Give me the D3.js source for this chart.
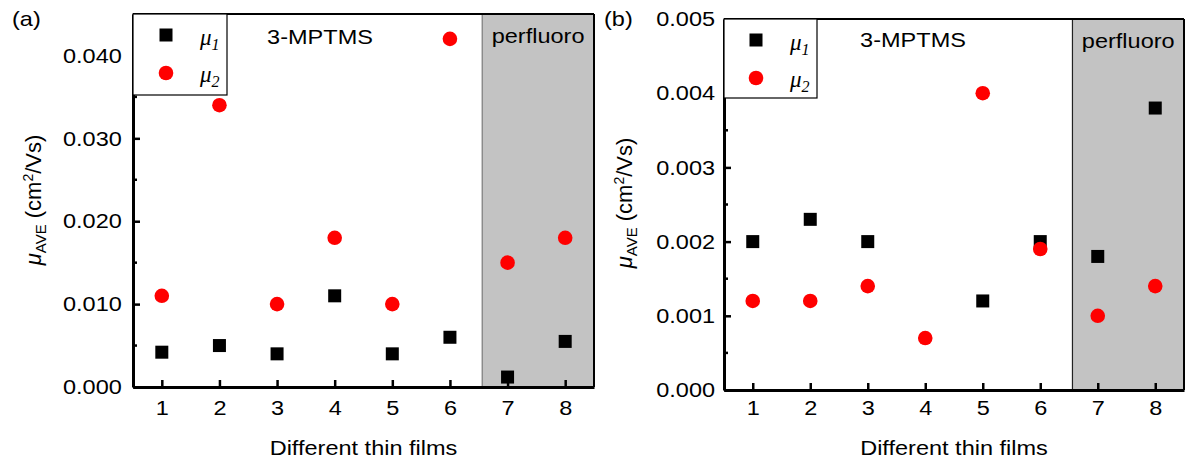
<!DOCTYPE html>
<html>
<head>
<meta charset="utf-8">
<script src="https://cdn.jsdelivr.net/npm/d3@7"></script>
<style>
  body { margin: 0; background: #fff; }
  text { font-family: "Liberation Sans", Arial, sans-serif; fill: #000; }
</style>
</head>
<body>
<div id="canvas"></div>
<script>
const films = [1, 2, 3, 4, 5, 6, 7, 8]
const mu1A = [0.0042, 0.005, 0.004, 0.011, 0.004, 0.006, 0.0012, 0.0055]
const mu2A = [0.011, 0.034, 0.010, 0.018, 0.010, 0.042, 0.015, 0.018]
const mu1B = [0.002, 0.0023, 0.002, null, 0.0012, 0.002, 0.0018, 0.0038]
const mu2B = [0.0012, 0.0012, 0.0014, 0.0007, 0.004, 0.0019, 0.001, 0.0014]
const yTicksA = [0, 0.01, 0.02, 0.03, 0.04]
const yMinorA = [0.005, 0.015, 0.025, 0.035]
const yTicksB = [0, 0.001, 0.002, 0.003, 0.004, 0.005]
const yMinorB = [0.0005, 0.0015, 0.0025, 0.0035, 0.0045]

const W = 1186
const H = 460
const SX = 1.12 // the picture is a bit stretched sideways

const svg = d3.select('#canvas').append('svg')
  .attr('width', W).attr('height', H)

function drawPanel(p) {
  const x = d3.scaleLinear().domain([0.5, 8.5]).range([p.left, p.right])
  const y = d3.scaleLinear().domain([0, p.yMax]).range([p.bottom, p.top])
  const g = svg.append('g')

  // grey "perfluoro" zone
  g.append('rect')
    .attr('x', x(6.56)).attr('y', p.top)
    .attr('width', p.right - x(6.56)).attr('height', p.bottom - p.top)
    .attr('fill', '#c3c3c3')
  g.append('line')
    .attr('x1', x(6.56)).attr('x2', x(6.56))
    .attr('y1', p.top).attr('y2', p.bottom)
    .attr('stroke', p.zoneLine).attr('stroke-width', 1.2)

  // mu1 squares
  const s1 = films.map((f, i) => ({ f, v: p.mu1[i] })).filter((d) => d.v != null)
  g.selectAll('rect.mu1').data(s1).enter().append('rect')
    .attr('class', 'mu1')
    .attr('x', (d) => x(d.f) - 6.5).attr('y', (d) => y(d.v) - 6.5)
    .attr('width', 13).attr('height', 13)
    .attr('fill', '#000')

  // mu2 circles
  const s2 = films.map((f, i) => ({ f, v: p.mu2[i] }))
  g.selectAll('circle.mu2').data(s2).enter().append('circle')
    .attr('class', 'mu2')
    .attr('cx', (d) => x(d.f)).attr('cy', (d) => y(d.v))
    .attr('r', 7.3)
    .attr('fill', '#ff0000')

  // frame
  g.append('line').attr('x1', p.left).attr('x2', p.right)
    .attr('y1', p.top).attr('y2', p.top)
    .attr('stroke', '#000').attr('stroke-width', 2)
  g.append('line').attr('x1', p.right).attr('x2', p.right)
    .attr('y1', p.top).attr('y2', p.bottom)
    .attr('stroke', '#000').attr('stroke-width', 2)

  // x axis, ticks inside
  const xa = g.append('g')
    .attr('transform', `translate(0,${p.bottom})`)
    .call(d3.axisBottom(x).tickValues(films).tickSize(-7).tickPadding(p.xPad).tickSizeOuter(0))
  xa.select('.domain').attr('stroke-width', 3)
  xa.selectAll('.tick line').attr('stroke-width', 2.5)
  xa.selectAll('.tick text')
    .style('font-size', '21px')
    .attr('transform', `scale(${SX},1)`)

  // y axis
  const ya = g.append('g')
    .attr('transform', `translate(${p.left},0)`)
    .call(d3.axisLeft(y).tickValues(p.yTicks).tickSize(-7).tickPadding(p.yPad)
      .tickFormat(d3.format('.3f')).tickSizeOuter(0))
  ya.select('.domain').attr('stroke-width', 3)
  ya.selectAll('.tick line').attr('stroke-width', 2.5)
  ya.selectAll('.tick text')
    .style('font-size', '21px')
    .attr('transform', `scale(${SX},1)`)
  g.append('g').selectAll('line').data(p.yMinor).enter().append('line')
    .attr('x1', p.left).attr('x2', p.left + 4)
    .attr('y1', (d) => y(d)).attr('y2', (d) => y(d))
    .attr('stroke', '#000').attr('stroke-width', 2.5)

  // legend box
  g.append('rect')
    .attr('x', p.left).attr('y', p.top)
    .attr('width', p.legW).attr('height', p.legH)
    .attr('fill', '#fff').attr('stroke', '#000').attr('stroke-width', 1.2)
  const lx = p.left + p.legMark
  g.append('rect')
    .attr('x', lx - 6.5).attr('y', p.top + 21 - 6.5)
    .attr('width', 13).attr('height', 13).attr('fill', '#000')
  g.append('circle')
    .attr('cx', lx).attr('cy', p.top + 59).attr('r', 7.3).attr('fill', '#ff0000')
  ;['1', '2'].forEach((n, i) => {
    const t = g.append('text')
      .attr('x', p.left + p.legW - 27).attr('y', p.top + 31 + i * 37)
      .style('font-family', '"Liberation Serif", "Times New Roman", serif')
      .style('font-style', 'italic')
      .style('font-size', '23px')
    t.append('tspan').text('\u03bc')
    t.append('tspan').attr('dy', 5).style('font-size', '16px').text(n)
  })

  // labels
  const label = (tx, ty, str, anchor) =>
    g.append('text')
      .attr('transform', `translate(${tx},${ty}) scale(${SX},1)`)
      .attr('text-anchor', anchor)
      .style('font-size', '21px')
      .text(str)

  label(p.panelX, 26, p.panel, 'start')
  label(p.mptmsX, p.mptmsY, '3-MPTMS', 'middle')
  label((x(6.56) + p.right) / 2, p.perfY, 'perfluoro', 'middle')
  label((p.left + p.right) / 2, 455, 'Different thin films', 'middle')

  // y title
  const yt = g.append('text')
    .attr('transform', `translate(${p.titleX},${p.titleY}) rotate(-90)`)
    .attr('text-anchor', 'middle')
    .style('font-size', '22px')
  yt.append('tspan').style('font-style', 'italic').text('\u03bc')
  yt.append('tspan').attr('dy', 5).style('font-size', '15px').text('AVE')
  yt.append('tspan').attr('dy', -5).text(' (cm')
  yt.append('tspan').attr('dy', -8).style('font-size', '14px').text('2')
  yt.append('tspan').attr('dy', 8).text('/Vs)')
}

drawPanel({
  left: 133, right: 594, top: 14, bottom: 387, yMax: 0.045,
  mu1: mu1A, mu2: mu2A, yTicks: yTicksA, yMinor: yMinorA,
  xPad: 13, yPad: 10, zoneLine: '#7a7a7a',
  legW: 94, legH: 81, legMark: 33,
  panel: '(a)', panelX: 12, mptmsX: 320, mptmsY: 44, perfY: 43,
  titleX: 41, titleY: 200,
})

drawPanel({
  left: 724, right: 1184, top: 19, bottom: 390, yMax: 0.005,
  mu1: mu1B, mu2: mu2B, yTicks: yTicksB, yMinor: yMinorB,
  xPad: 10, yPad: 8, zoneLine: '#222',
  legW: 93, legH: 79, legMark: 32,
  panel: '(b)', panelX: 604, mptmsX: 913, mptmsY: 47, perfY: 48,
  titleX: 632, titleY: 203,
})
</script>
</body>
</html>
